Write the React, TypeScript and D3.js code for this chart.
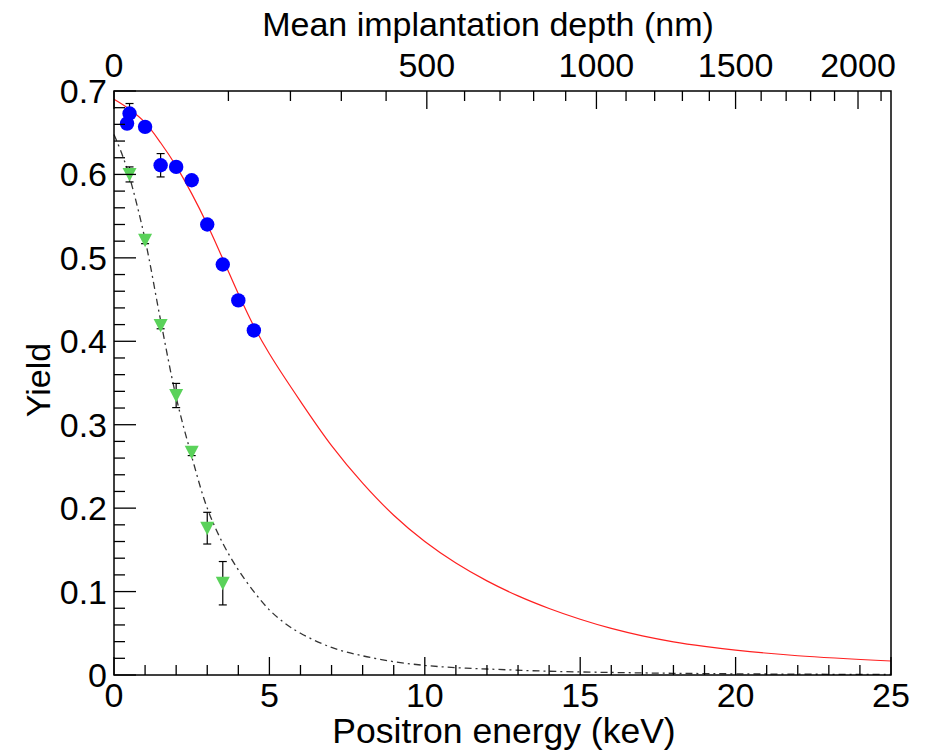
import React from "react";
import * as d3 from "d3";

// measured points (energy in keV, yield)
const blueEnergy = [0.42, 0.5, 1, 1.5, 2, 2.5, 3, 3.5, 4, 4.5];
const blueYield = [0.661, 0.673, 0.657, 0.611, 0.609, 0.593, 0.54, 0.492, 0.449, 0.413];
const blueErr = [0.005, 0.012, 0.005, 0.014, 0.005, 0.004, 0.004, 0.004, 0.004, 0.004];

const greenEnergy = [0.5, 1, 1.5, 2, 2.5, 3, 3.5];
const greenYield = [0.6, 0.521, 0.419, 0.335, 0.267, 0.176, 0.11];
const greenErr = [0.009, 0.004, 0.004, 0.0145, 0.004, 0.019, 0.026];

// fit curves
const redFitEnergy = [0, 0.5, 1, 1.5, 2, 2.5, 3, 3.5, 4, 4.5, 5, 6, 7, 8, 9, 10, 11, 12, 13, 14, 15, 16, 17, 18, 19, 20, 22, 25];
const redFitYield = [0.69, 0.678, 0.662, 0.638, 0.61, 0.577, 0.54, 0.499, 0.457, 0.418, 0.385, 0.328, 0.275, 0.23, 0.1915, 0.16, 0.1342, 0.1128, 0.0948, 0.0797, 0.0668, 0.0558, 0.0469, 0.0398, 0.0343, 0.0298, 0.0231, 0.0168];

const blackFitEnergy = [0, 0.25, 0.5, 1, 1.5, 2, 2.5, 3, 3.5, 4, 4.5, 5, 5.5, 6, 7, 8, 9, 10, 11, 12, 14, 17, 20, 25];
const blackFitYield = [0.648, 0.625, 0.597, 0.522, 0.425, 0.333, 0.262, 0.2, 0.158, 0.126, 0.1, 0.078, 0.062, 0.05, 0.033, 0.023, 0.016, 0.0115, 0.0088, 0.0072, 0.0045, 0.0025, 0.0014, 0.0006];

// axes
const energyMajor = [0, 5, 10, 15, 20, 25];
const yieldMajor = [0, 0.1, 0.2, 0.3, 0.4, 0.5, 0.6, 0.7];
const depthMajor = [0, 500, 1000, 1500, 2000];
const depthPerKeV = 12.43; // nm per keV^1.6
const depthExponent = 1.6;

const W = 925;
const H = 754;
const margin = { top: 91, right: 34, bottom: 79, left: 114 };
const font = "'Liberation Sans', Arial, Helvetica, sans-serif";
const fs = 34;

function depthToEnergy(d: number) {
  return Math.pow(d / depthPerKeV, 1 / depthExponent);
}

export default function App() {
  const x = d3.scaleLinear().domain([0, 25]).range([margin.left, W - margin.right]);
  const y = d3.scaleLinear().domain([0, 0.7]).range([H - margin.bottom, margin.top]);
  const x0 = x.range()[0], x1 = x.range()[1];
  const y0 = y.range()[0], y1 = y.range()[1];

  const line = d3
    .line<[number, number]>()
    .x((d) => x(d[0]))
    .y((d) => y(d[1]))
    .curve(d3.curveCatmullRom.alpha(0.5));

  const redPath = line(redFitEnergy.map((e, i) => [e, redFitYield[i]]));
  const blackPath = line(blackFitEnergy.map((e, i) => [e, blackFitYield[i]]));

  const energyMinor = d3.range(0, 26, 1).filter((v) => v % 5 !== 0);
  const yieldMinor = d3.range(0, 71, 2).map((v) => v / 100).filter((v) => Math.round(v * 100) % 10 !== 0);
  const depthMinor = d3.range(100, 2200, 100).filter((v) => v % 500 !== 0);

  const errBar = (e: number, v: number, err: number, key: string) => (
    <g key={key} stroke="#000" strokeWidth={1.2}>
      <line x1={x(e)} x2={x(e)} y1={y(v - err)} y2={y(v + err)} />
      <line x1={x(e) - 4} x2={x(e) + 4} y1={y(v - err)} y2={y(v - err)} />
      <line x1={x(e) - 4} x2={x(e) + 4} y1={y(v + err)} y2={y(v + err)} />
    </g>
  );

  return (
    <svg width={W} height={H} style={{ position: "absolute", left: 0, top: 0, background: "#fff" }} fontFamily={font}>
      <rect width={W} height={H} fill="#fff" />

      {/* curves */}
      <path d={redPath || ""} fill="none" stroke="#ff2020" strokeWidth={1.2} />
      <path d={blackPath || ""} fill="none" stroke="#333" strokeWidth={1.3} strokeDasharray="7 4 2 4" />

      {/* error bars */}
      {blueEnergy.map((e, i) => errBar(e, blueYield[i], blueErr[i], "be" + i))}
      {greenEnergy.map((e, i) => errBar(e, greenYield[i], greenErr[i], "ge" + i))}

      {/* markers */}
      {blueEnergy.map((e, i) => (
        <circle key={"b" + i} cx={x(e)} cy={y(blueYield[i])} r={7.2} fill="#0000ff" />
      ))}
      {greenEnergy.map((e, i) => (
        <path
          key={"g" + i}
          transform={`translate(${x(e)},${y(greenYield[i])})`}
          d="M-7,-6.5 L7,-6.5 L0,7 Z"
          fill="#5ad25a"
        />
      ))}

      {/* frame */}
      <rect x={x0} y={y1} width={x1 - x0} height={y0 - y1} fill="none" stroke="#000" strokeWidth={1.5} />

      {/* ticks */}
      <g stroke="#000" strokeWidth={1.3}>
        {energyMajor.map((t) => (
          <line key={"xM" + t} x1={x(t)} x2={x(t)} y1={y0} y2={y0 - 18} />
        ))}
        {energyMinor.map((t) => (
          <line key={"xm" + t} x1={x(t)} x2={x(t)} y1={y0} y2={y0 - 10} />
        ))}
        {yieldMajor.map((t) => (
          <line key={"yM" + t} x1={x0} x2={x0 + 22} y1={y(t)} y2={y(t)} />
        ))}
        {yieldMinor.map((t) => (
          <line key={"ym" + t} x1={x0} x2={x0 + 11} y1={y(t)} y2={y(t)} />
        ))}
        {depthMajor.map((t) => (
          <line key={"dM" + t} x1={x(depthToEnergy(t))} x2={x(depthToEnergy(t))} y1={y1} y2={y1 + 18} />
        ))}
        {depthMinor.map((t) => (
          <line key={"dm" + t} x1={x(depthToEnergy(t))} x2={x(depthToEnergy(t))} y1={y1} y2={y1 + 10} />
        ))}
      </g>

      <g fontSize={fs} fill="#000">
        {energyMajor.map((t) => (
          <text key={"xl" + t} x={x(t)} y={y0 + 32} textAnchor="middle">
            {t}
          </text>
        ))}
        {yieldMajor.map((t) => (
          <text key={"yl" + t} x={x0 - 7} y={y(t) + 12} textAnchor="end">
            {t === 0 ? "0" : t.toFixed(1)}
          </text>
        ))}
        {depthMajor.map((t) => (
          <text key={"dl" + t} x={x(depthToEnergy(t))} y={y1 - 14} textAnchor="middle">
            {t}
          </text>
        ))}
        <text x={504} y={743} textAnchor="middle" fontSize={35.5}>
          Positron energy (keV)
        </text>
        <text x={488} y={36} textAnchor="middle">
          Mean implantation depth (nm)
        </text>
        <text transform="translate(50,380) rotate(-90)" textAnchor="middle">
          Yield
        </text>
      </g>
    </svg>
  );
}
